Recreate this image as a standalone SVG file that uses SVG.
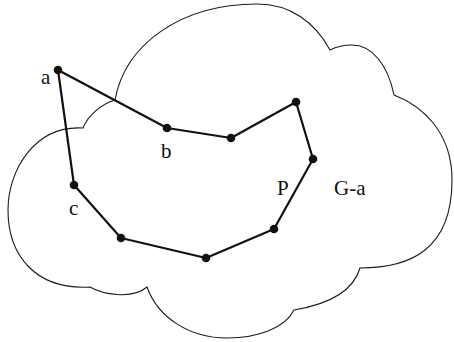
<svg xmlns="http://www.w3.org/2000/svg" width="454" height="342" viewBox="0 0 454 342">
<style>
.cloud{fill:none;stroke:#1a1a1a;stroke-width:1.1}
.edge{stroke:#111;stroke-width:2.2;fill:none;stroke-linecap:round}
.dot{fill:#111}
.lbl{font-family:"Liberation Serif","Times New Roman",serif;font-size:21px;fill:#111}
</style>
<path id="cloud" class="cloud" d="M83,128 C35,125 8,170 8,210 C8,255 35,290 90,287 C102,294 132,300 147,287 C158,318 190,338 227,338 C258,338 285,328 294,310 C318,306 352,296 360,268 C410,268 452,250 452,180 C452,130 420,105 394,95 C388,65 372,45 352,45 C342,45 334,48 330,50 C315,22 290,4 257,4 C180,4 125,45 115,100 C102,104 88,115 83,128 Z"/>
<g id="connectors">
<line class="edge" x1="58" y1="70" x2="167" y2="128"/>
<line class="edge" x1="167" y1="128" x2="231" y2="138"/>
<line class="edge" x1="231" y1="138" x2="296" y2="102"/>
<line class="edge" x1="296" y1="102" x2="313" y2="159"/>
<line class="edge" x1="313" y1="159" x2="274" y2="229"/>
<line class="edge" x1="274" y1="229" x2="206" y2="258"/>
<line class="edge" x1="206" y1="258" x2="121" y2="238"/>
<line class="edge" x1="121" y1="238" x2="74" y2="185"/>
<line class="edge" x1="74" y1="185" x2="58" y2="70"/>
</g>
<g id="node-a"><circle class="dot" cx="58" cy="70" r="4.3"/><text class="lbl" x="41" y="84">a</text></g>
<g id="node-b"><circle class="dot" cx="167" cy="128" r="4.3"/><text class="lbl" x="161" y="158">b</text></g>
<g id="node-3"><circle class="dot" cx="231" cy="138" r="4.3"/></g>
<g id="node-4"><circle class="dot" cx="296" cy="102" r="4.3"/></g>
<g id="node-5"><circle class="dot" cx="313" cy="159" r="4.3"/></g>
<g id="node-6"><circle class="dot" cx="274" cy="229" r="4.3"/></g>
<g id="node-7"><circle class="dot" cx="206" cy="258" r="4.3"/></g>
<g id="node-8"><circle class="dot" cx="121" cy="238" r="4.3"/></g>
<g id="node-c"><circle class="dot" cx="74" cy="185" r="4.3"/><text class="lbl" x="69" y="215">c</text></g>
<text id="label-P" class="lbl" x="277" y="195">P</text>
<text id="label-Ga" class="lbl" x="334" y="195">G-a</text>
</svg>
